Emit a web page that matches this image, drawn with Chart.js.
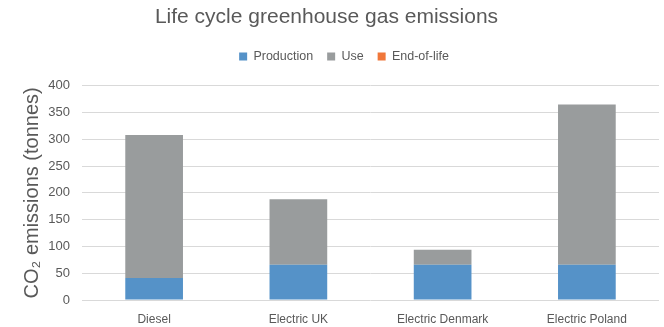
<!doctype html>
<html>
<head>
<meta charset="utf-8" />
<title>Life cycle greenhouse gas emissions</title>
<script src="https://cdn.jsdelivr.net/npm/chart.js"></script>
<style>
  html, body { margin: 0; padding: 0; background: #fff; }
  #c { display: block; }
</style>
</head>
<body>
<canvas id="c" width="664" height="327"></canvas>
<script>
// Daten (Tonnen CO2)
const categories = ["Diesel", "Electric UK", "Electric Denmark", "Electric Poland"];
const production = [40, 65, 65, 65];
const use = [267, 122, 28, 299];
const endOfLife = [1, 1, 1, 1];
const yTicks = [0, 50, 100, 150, 200, 250, 300, 350, 400];
const legendOrder = ["Production", "Use", "End-of-life"];

const txt = "#595959";
const font = "'Liberation Sans', Arial, Helvetica, sans-serif";

// Legende: mehr Luft darunter, Titel/Legende horizontal wie im Original versetzt
const headerTweaks = {
  id: "headerTweaks",
  beforeInit(chart) {
    const origFit = chart.legend.fit;
    chart.legend.fit = function () {
      origFit.bind(chart.legend)();
      this.height += 13;
    };
  },
  afterLayout(chart) {
    chart.titleBlock.right -= 6;
    chart.legend.left += 29;
  }
};

new Chart(document.getElementById("c").getContext("2d"), {
  type: "bar",
  data: {
    labels: categories,
    // End-of-life liegt im Stapel ganz unten
    datasets: [
      { label: "End-of-life", data: endOfLife, backgroundColor: "#f0773a" },
      { label: "Production", data: production, backgroundColor: "#5592c8" },
      { label: "Use", data: use, backgroundColor: "#999c9d" }
    ]
  },
  options: {
    responsive: false,
    animation: false,
    layout: { padding: { left: 0, right: 5, top: 3, bottom: 0 } },
    datasets: { bar: { barPercentage: 0.4, categoryPercentage: 1 } },
    plugins: {
      title: {
        display: true,
        text: "Life cycle greenhouse gas emissions",
        color: txt,
        font: { family: font, size: 21, weight: "normal" },
        padding: { top: 2, bottom: 6 }
      },
      legend: {
        position: "top",
        labels: {
          color: txt,
          font: { family: font, size: 12.5 },
          boxWidth: 8,
          boxHeight: 8,
          padding: 14,
          sort: (a, b) => legendOrder.indexOf(a.text) - legendOrder.indexOf(b.text)
        }
      },
      tooltip: { enabled: false }
    },
    scales: {
      x: {
        stacked: true,
        grid: { display: false, drawTicks: false },
        border: { display: false },
        ticks: { color: txt, font: { family: font, size: 12 }, padding: 12, maxRotation: 0 },
        afterFit(axis) { axis.height = 27; }
      },
      y: {
        stacked: true,
        min: yTicks[0],
        max: yTicks[yTicks.length - 1],
        afterBuildTicks(axis) { axis.ticks = yTicks.map(v => ({ value: v })); },
        afterFit(axis) { axis.width = 82; },
        grid: { color: "#d9d9d9", lineWidth: 1, drawTicks: false },
        border: { display: false },
        ticks: { color: txt, font: { family: font, size: 13 }, padding: 12 },
        title: {
          display: true,
          text: "CO\u2082 emissions (tonnes)",
          color: txt,
          font: { family: font, size: 20 },
          padding: { top: 20, bottom: 0 }
        }
      }
    }
  },
  plugins: [headerTweaks]
});
</script>
</body>
</html>
